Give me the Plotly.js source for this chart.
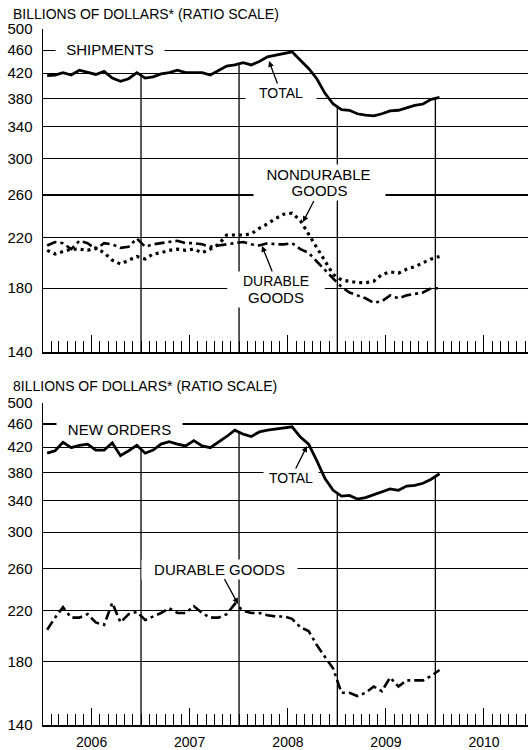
<!DOCTYPE html>
<html><head><meta charset="utf-8">
<script src="https://cdn.plot.ly/plotly-3.0.1.min.js"></script>
<style>html,body{margin:0;padding:0;background:#fff}#chart{width:528px;height:750px}</style>
</head><body><div id="chart"></div>
<script>
// Monthly observations, Jan 2006 - Jan 2010
const months = [
 '2006-01','2006-02','2006-03','2006-04','2006-05','2006-06','2006-07','2006-08','2006-09','2006-10','2006-11','2006-12',
 '2007-01','2007-02','2007-03','2007-04','2007-05','2007-06','2007-07','2007-08','2007-09','2007-10','2007-11','2007-12',
 '2008-01','2008-02','2008-03','2008-04','2008-05','2008-06','2008-07','2008-08','2008-09','2008-10','2008-11','2008-12',
 '2009-01','2009-02','2009-03','2009-04','2009-05','2009-06','2009-07','2009-08','2009-09','2009-10','2009-11','2009-12',
 '2010-01'];

// Shipments (billions of dollars)
const shipTotal = [416,417,421,417,425,421,418,423,412,407,411,421,
                   412,414,419,421,425,421,421,421,417,425,432,434,
                   438,434,440,448,451,454,457,442,428,411,388,372,
                   364,363,358,356,355,358,362,363,367,370,372,379,
                   382];
const shipDurable = [213,216,215,210,217,215,210,215,214,211,212,219,
                     212,214,215,216,217,215,215,214,212,213,214,215,
                     216,214,213,215,214,214,215,210,207,200,193,187,
                     181,177,175,173,170,171,175,173,175,176,177,180,
                     180];
const shipNondurable = [209,206,208,210,210,209,211,207,201,198,201,204,
                        202,206,207,209,210,209,210,207,210,214,222,222,
                        222,223,228,232,237,241,242,235,223,212,201,190,
                        186,185,184,184,185,190,192,191,194,196,199,202,
                        204];

// New orders (billions of dollars)
const ordTotal = [410,414,428,419,423,425,415,415,427,406,414,423,
                  410,415,425,429,425,422,431,422,419,428,438,449,
                  442,438,446,449,451,454,455,437,425,398,371,354,
                  346,347,342,344,348,352,356,354,360,361,364,370,
                  378];
const ordDurable = [204,214,223,214,214,217,210,208,227,210,217,219,
                    212,215,218,222,218,218,224,218,214,214,217,226,
                    220,218,218,216,215,215,213,206,203,192,183,175,
                    159,159,157,159,163,160,169,163,167,167,167,170,
                    174];

const yTicks = [140,180,220,260,300,340,380,420,460,500];
const yearTickVals = ['2006-07-01','2007-07-01','2008-07-01','2009-07-01','2010-07-01'];
const yearLabels = ['2006','2007','2008','2009','2010'];
const dividerYears = [2007,2008,2009,2010];

const FONT = 'Liberation Sans, Arial, sans-serif';

// layout geometry (pixels)
const W = 528, H = 750, ML = 43, MR = 0, MT = 29, MB = 25;
const plotW = W - ML - MR, plotH = H - MT - MB;
const px = x => (x - ML) / plotW;
const py = y => (H - MB - y) / plotH;

const solid = {color:'black', width:2.8};
const dashdot = {color:'black', width:2.6, dash:'10px,4px,3px,4px'};
const dotted = {color:'black', width:3.2, dash:'3px,4px'};

function tr(y, line, xa, ya){
  return {x: months, y: y, type:'scatter', mode:'lines', line: line,
          xperiod:'M1', xperiodalignment:'middle', xaxis: xa, yaxis: ya,
          hoverinfo:'skip', showlegend:false};
}

const data = [
  tr(shipNondurable, dotted, 'x', 'y'),
  tr(shipDurable, dashdot, 'x', 'y'),
  tr(shipTotal, solid, 'x', 'y'),
  tr(ordDurable, dashdot, 'x2', 'y2'),
  tr(ordTotal, solid, 'x2', 'y2')
];

function xax(showLabels, anchor){
  return {
    type:'date', range:['2006-01-01','2010-12-12'], anchor: anchor,
    showgrid:false, zeroline:false, showline:true, linecolor:'black', linewidth:1.5,
    tickmode:'array', tickvals: yearTickVals, ticktext: yearLabels,
    ticks:'inside', ticklen:17, tickwidth:1, tickcolor:'black',
    showticklabels: showLabels, tickfont:{family:FONT, size:14, color:'black'},
    ticklabelstandoff: 4,
    minor:{ticks:'inside', ticklen:11, tickwidth:1, tickcolor:'black', dtick:'M1', tick0:'2006-01-01', showgrid:false},
    fixedrange:true
  };
}
function yax(domain, anchor){
  return {
    type:'log', range:[Math.log10(140), Math.log10(500)], domain: domain, anchor: anchor,
    tickmode:'array', tickvals: yTicks, ticktext: yTicks.map(String),
    showgrid:true, gridcolor:'black', gridwidth:1.2,
    showline:true, linecolor:'black', linewidth:1.5, zeroline:false,
    ticks:'', ticklabelstandoff: 6,
    tickfont:{family:FONT, size:15, color:'black'}, fixedrange:true
  };
}

// vertical year dividers dropping from the total line
const shapes = [];
function dividers(total, xref, yref){
  dividerYears.forEach(yr => {
    const idx = (yr - 2006) * 12;
    const top = (total[idx-1] + (total[idx] !== undefined ? total[idx] : total[idx-1])) / 2;
    shapes.push({type:'line', xref:xref, yref:yref, x0: yr+'-01-01', x1: yr+'-01-01',
                 y0: top, y1: 140, line:{color:'black', width:1.3}, layer:'below'});
  });
}
dividers(shipTotal, 'x', 'y');
dividers(ordTotal, 'x2', 'y2');

function label(text, cx, cy, w, size){
  return {xref:'paper', yref:'paper', x: px(cx), y: py(cy), text: text, showarrow:false,
          xanchor:'center', yanchor:'middle', width: w, bgcolor:'white', borderpad:1,
          font:{family:FONT, size: size || 15, color:'black'}};
}
function arrowLabel(text, hx, hy, cx, cy, w, size){
  return {xref:'paper', yref:'paper', x: px(hx), y: py(hy), text: text, showarrow:true,
          ax: cx - hx, ay: cy - hy, axref:'pixel', ayref:'pixel',
          arrowhead:2, arrowsize:0.9, arrowwidth:1.3, arrowcolor:'black',
          width: w, bgcolor:'white', borderpad:1,
          font:{family:FONT, size: size || 15, color:'black'}};
}

const annotations = [
  {xref:'paper', yref:'paper', x: px(11), y: py(14), xanchor:'left', yanchor:'middle', showarrow:false,
   text:'BILLIONS OF DOLLARS* (RATIO SCALE)', font:{family:FONT, size:14, color:'black'}},
  {xref:'paper', yref:'paper', x: px(11), y: py(386.5), xanchor:'left', yanchor:'middle', showarrow:false,
   text:'8ILLIONS OF DOLLARS* (RATIO SCALE)', font:{family:FONT, size:14, color:'black'}},
  label('SHIPMENTS', 110, 50, 106),
  arrowLabel('TOTAL', 269, 61, 281, 93, 68, 14),
  label('NONDURABLE', 318.5, 174, 129),
  arrowLabel('GOODS', 303, 222, 319, 191, 129),
  arrowLabel('DURABLE', 262, 246, 276, 281, 94, 14),
  label('GOODS', 276, 297, 94),
  label('NEW ORDERS', 119, 429, 123),
  arrowLabel('TOTAL', 307, 446, 291, 478, 52, 14),
  arrowLabel('DURABLE GOODS', 238, 604, 219, 569, 153)
];

const layout = {
  width: W, height: H, margin:{l:ML, r:MR, t:MT, b:MB, pad:0},
  paper_bgcolor:'white', plot_bgcolor:'white',
  showlegend:false,
  xaxis: xax(false, 'y'),
  yaxis: yax([py(352), 1], 'x'),
  xaxis2: xax(true, 'y2'),
  yaxis2: yax([0, py(403)], 'x2'),
  shapes: shapes,
  annotations: annotations,
  font:{family:FONT, color:'black'}
};

Plotly.newPlot('chart', data, layout, {displayModeBar:false, staticPlot:true});
</script>
</body></html>
